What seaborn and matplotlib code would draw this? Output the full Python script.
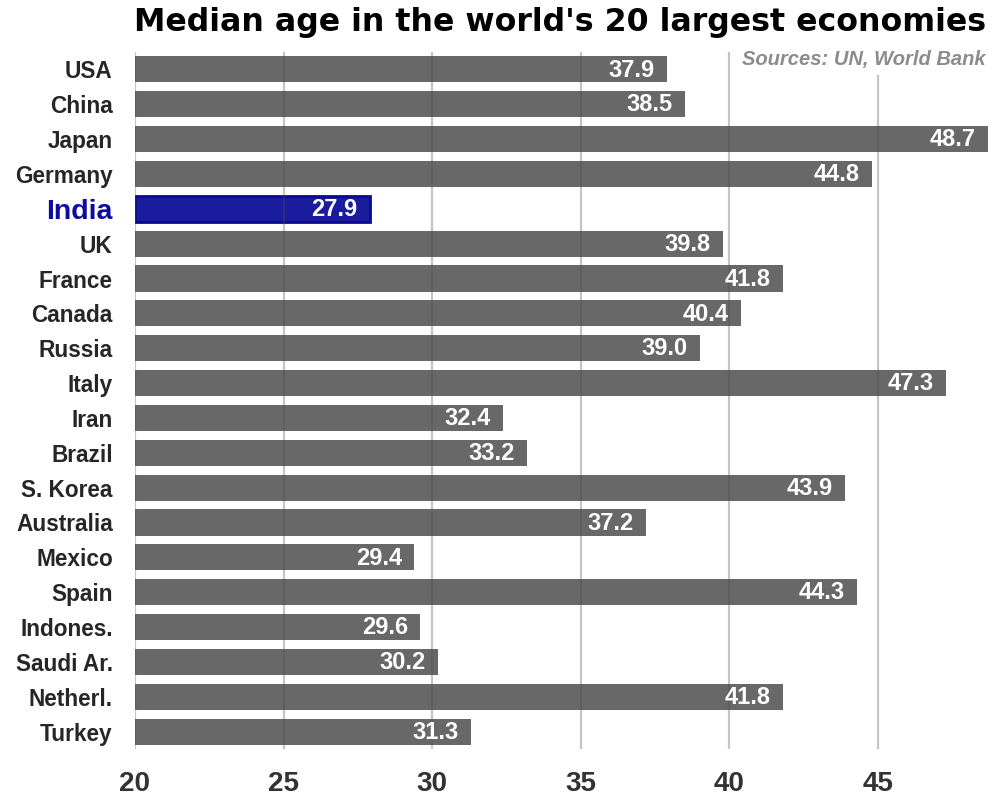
import matplotlib
matplotlib.use("Agg")
import matplotlib.pyplot as plt
import seaborn as sns
import pandas as pd

countries = ["USA", "China", "Japan", "Germany", "India", "UK", "France", "Canada",
             "Russia", "Italy", "Iran", "Brazil", "S. Korea", "Australia", "Mexico",
             "Spain", "Indones.", "Saudi Ar.", "Netherl.", "Turkey"]
median_age = [37.9, 38.5, 48.7, 44.8, 27.9, 39.8, 41.8, 40.4, 39.0, 47.3,
              32.4, 33.2, 43.9, 37.2, 29.4, 44.3, 29.6, 30.2, 41.8, 31.3]
x_ticks = [20, 25, 30, 35, 40, 45]
highlight = "India"

sns.set_theme(style="white")
plt.rcParams["font.family"] = ["Liberation Sans", "DejaVu Sans"]

df = pd.DataFrame({"country": countries, "age": median_age})
palette = {c: ("#1b1b9e" if c == highlight else "#686868") for c in countries}

fig = plt.figure(figsize=(9.92, 7.97), dpi=100)
ax = fig.add_axes([135/992, 1-749/797, 1-135/992, (749-52)/797])

sns.barplot(data=df, x="age", y="country", hue="country", palette=palette,
            legend=False, orient="h", width=0.75, ax=ax, saturation=1,
            zorder=1)

x0 = 20
for patch, c in zip(ax.patches, countries):
    w = patch.get_width()
    patch.set_x(x0)
    patch.set_width(w - x0)
    if c == highlight:
        patch.set_edgecolor("#0a0a96")
        patch.set_linewidth(2)
    else:
        patch.set_linewidth(0)

ax.set_xlim(x0, 48.84)
ax.set_ylim(19.5, -0.5)
ax.set_xticks(x_ticks)
ax.set_xticklabels([str(t) for t in x_ticks])
for s in ax.spines.values():
    s.set_visible(False)
ax.grid(axis="x", color="#4d4d4d", alpha=0.32, linewidth=1.6, zorder=3)
ax.set_axisbelow(False)
ax.grid(axis="y", visible=False)
ax.tick_params(axis="both", length=0)
ax.tick_params(axis="x", pad=16, labelsize=20, labelcolor="#333333")
ax.tick_params(axis="y", pad=16, labelsize=16.3)
for lbl in ax.get_xticklabels():
    lbl.set_fontweight("bold")
for lbl in ax.get_yticklabels():
    lbl.set_fontweight("bold")
    if lbl.get_text() == highlight:
        lbl.set_color("#0c0ca0")
        lbl.set_fontsize(20.5)
ax.set_xlabel("")
ax.set_ylabel("")

for i, v in enumerate(median_age):
    ax.annotate(f"{v:.1f}", xy=(v, i), xytext=(-9, -0.5), textcoords="offset points",
                ha="right", va="center", color="white", fontsize=17,
                fontweight="bold", zorder=5)

fig.text(560/992, 1-23/797, "Median age in the world's 20 largest economies",
         ha="center", va="center", fontsize=22.8, fontweight="bold", color="black",
         family=["DejaVu Sans"])
fig.text(986/992, 1-60/797, "Sources: UN, World Bank", ha="right", va="center",
         fontsize=14.5, fontweight="bold", fontstyle="italic", color="#8c8c8c",
         bbox=dict(facecolor="white", edgecolor="none", pad=4), zorder=10)

fig.savefig("out.png", dpi=100)
